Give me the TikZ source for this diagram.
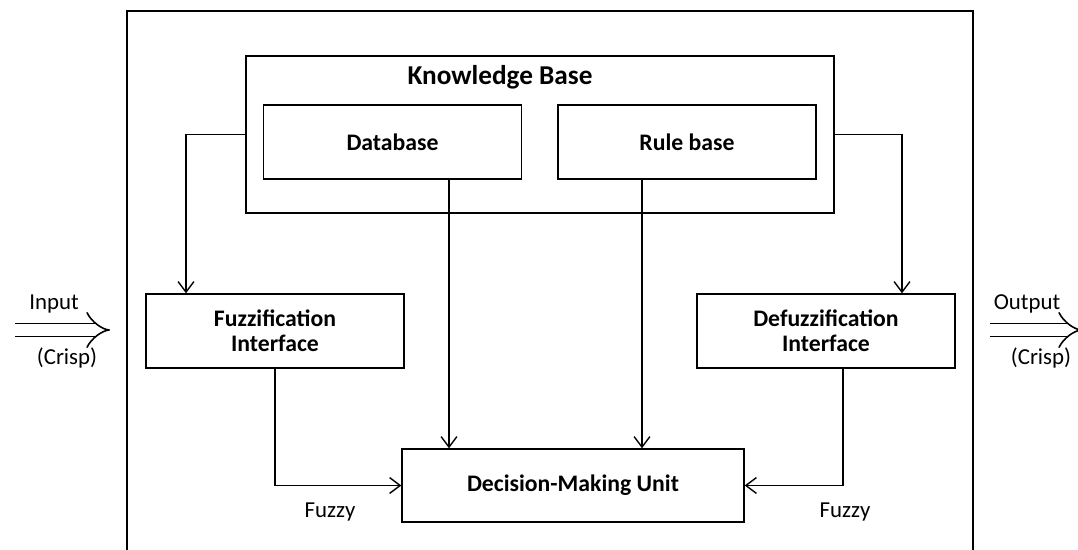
\documentclass[tikz,border=0pt]{standalone}
\usepackage{fontspec}
\setmainfont{Carlito}
\usetikzlibrary{arrows.meta,positioning}

\begin{document}
\begin{tikzpicture}[x=0.02cm, y=-0.02cm, line width=0.8pt,
    box/.style={draw, rectangle, inner sep=0pt, minimum width=5.16cm, minimum height=1.48cm, align=center, font=\bfseries\fontsize{13.5}{14.5}\selectfont},
    lbl/.style={font=\fontsize{13}{14}\selectfont},
    arr/.style={-{Straight Barb[length=6pt, width=9pt]}},
    fat/.style={double, line width=0.9pt, double distance=6.5pt, -{Implies[length=7pt]}}]

    \useasboundingbox (0,0) rectangle (1078,550);

    % outer frame (open at the bottom)
    \draw (127,550) -- (127,11) -- (973,11) -- (973,550);

    % Knowledge base with its two parts
    \node[draw, minimum width=11.76cm, minimum height=3.14cm] (kb) at (540,134.5) {};
    \node[font=\bfseries\fontsize{15.5}{16}\selectfont] (kbt) at (500,77) {Knowledge Base};
    \node[box] (db) at (392.5,142) {Database};
    \node[box] (rb) at (687,142) {Rule base};

    % interfaces and decision unit
    \node[box] (fz) at (275,331) {Fuzzification\\Interface};
    \node[box] (dfz) at (826,331) {Defuzzification\\Interface};
    \node[box, minimum width=6.84cm, minimum height=1.46cm] (dmu) at (573,485.5) {Decision-Making Unit};

    \draw[arr] (kb.west) -| ([xshift=-1.78cm]fz.north);
    \draw[arr] (kb.east) -| ([xshift=1.52cm]dfz.north);
    \draw[arr] ([xshift=1.13cm]db.south) -- ([xshift=1.13cm]db.south |- dmu.north);
    \draw[arr] ([xshift=-0.9cm]rb.south) -- ([xshift=-0.9cm]rb.south |- dmu.north);
    \draw[arr] (fz.south) |- (dmu.west);
    \draw[arr] ([xshift=0.34cm]dfz.south) |- (dmu.east);

    \node[lbl] (fzl) at (330,512) {Fuzzy};
    \node[lbl] (dfzl) at (845,512) {Fuzzy};

    % crisp input and output
    \coordinate (in0) at (15,330);
    \coordinate (in1) at (110,330);
    \coordinate (out0) at (990,330);
    \coordinate (out1) at (1082,330);
    \draw[fat] (in0) -- (in1);
    \draw[fat] (out0) -- (out1);
    \node[lbl] (inl) at (54,304) {Input};
    \node[lbl] (inc) at (67,358) {(Crisp)};
    \node[lbl] (outl) at (1027,304) {Output};
    \node[lbl] (outc) at (1041,358) {(Crisp)};

\end{tikzpicture}
\end{document}
